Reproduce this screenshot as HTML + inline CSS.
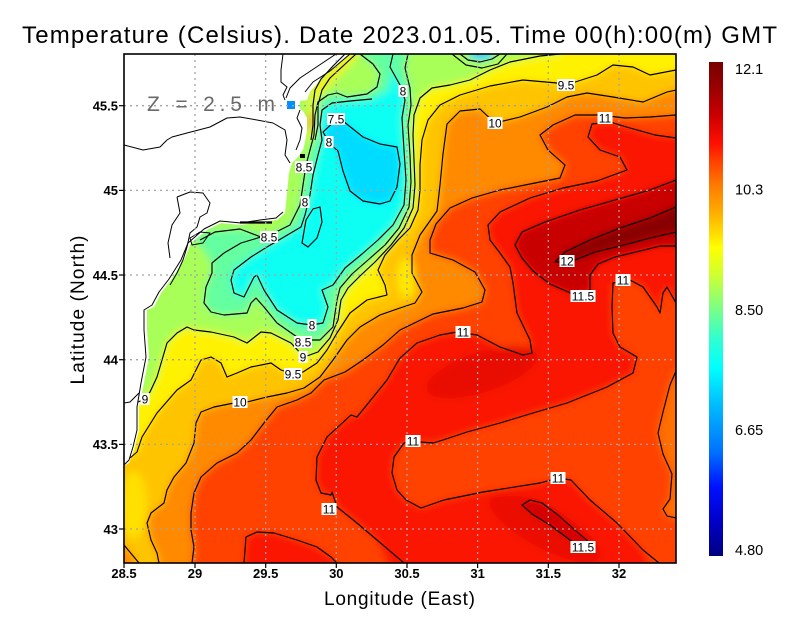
<!DOCTYPE html>
<html><head><meta charset="utf-8"><style>
html,body{margin:0;padding:0;background:#fff;}
svg{display:block;}
text{font-family:"Liberation Sans",sans-serif;}
</style></head><body>
<svg width="800" height="618" viewBox="0 0 800 618" xmlns="http://www.w3.org/2000/svg">
<defs>
<clipPath id="pc"><rect x="124" y="54" width="552" height="509"/></clipPath>
<filter id="bl" x="-5%" y="-5%" width="110%" height="110%"><feGaussianBlur stdDeviation="4"/></filter>
<linearGradient id="cb" x1="0" y1="0" x2="0" y2="1">
<stop offset="0" stop-color="#780000"/>
<stop offset="0.05" stop-color="#980000"/>
<stop offset="0.11" stop-color="#cc0000"/>
<stop offset="0.165" stop-color="#ff1000"/>
<stop offset="0.2" stop-color="#ff4000"/>
<stop offset="0.25" stop-color="#ff7c00"/>
<stop offset="0.3" stop-color="#ffa800"/>
<stop offset="0.35" stop-color="#ffe000"/>
<stop offset="0.375" stop-color="#ffff00"/>
<stop offset="0.43" stop-color="#d0ff30"/>
<stop offset="0.495" stop-color="#80ff80"/>
<stop offset="0.56" stop-color="#30ffd0"/>
<stop offset="0.62" stop-color="#00ffff"/>
<stop offset="0.69" stop-color="#00c0ff"/>
<stop offset="0.74" stop-color="#0098ff"/>
<stop offset="0.79" stop-color="#0070ff"/>
<stop offset="0.86" stop-color="#0010ff"/>
<stop offset="0.93" stop-color="#0000c8"/>
<stop offset="1" stop-color="#000080"/>
</linearGradient>
</defs>
<rect width="800" height="618" fill="#fff"/>

<g clip-path="url(#pc)">
<g filter="url(#bl)">
<rect x="100" y="30" width="600" height="560" fill="#ff4200"/>
<polygon fill="#fa1400" points="387,380 400,358 417,343 440,335 457,332 477,335 500,347 523,355 532,353 530,340 517,313 513,283 510,267 500,253 490,240 488,225 500,212 530,198 563,188 597,181 627,170 620,157 600,150 588,137 592,124 610,122 630,128 655,135 700,138 700,303 676,303 667,287 663,293 660,313 657,307 643,287 630,280 613,283 612,307 613,333 620,347 637,357 633,373 607,387 567,403 533,413 500,423 467,432 443,440 433,443 420,442 413,441 404,443 394,457 392,473 397,490 406,500 421,508 444,500 483,492 540,483 558,478 571,480 590,500 617,523 643,550 662,590 400,590 377,540 357,523 337,507 332,492 331,495 321,493 316,480 317,457 327,437 351,415 357,417"/>
<ellipse cx="482" cy="372" rx="58" ry="20" transform="rotate(-18 482 372)" fill="#e80800"/>
<ellipse cx="545" cy="528" rx="62" ry="20" transform="rotate(28 545 528)" fill="#ea0800"/>
<polygon fill="#c80000" points="700,178 676,180 650,190 615,200 580,210 545,222 522,232 515,245 522,258 533,271 550,284 573,294 590,290 590,275 598,264 615,257 640,251 660,246 700,246"/>
<polygon fill="#880000" points="700,205 676,207 650,218 620,228 590,240 565,252 555,262 570,262 595,252 620,246 650,238 676,232 700,232"/>
<polygon fill="#d00000" points="522,505 530,500 542,503 558,515 575,530 590,543 585,549 570,540 550,525 532,514"/>
<polygon fill="#fa1400" points="244,590 244,563 246,537 257,532 274,533 297,540 317,547 331,557 337,563 340,590"/>
<polygon fill="#ff7000" points="700,371 676,371 670,385 663,412 658,433 663,454 672,474 670,499 663,509 667,516 676,518 700,518"/>
<polygon fill="#ff8a00" points="100,590 192,590 192,563 194,547 191,530 191,513 194,493 201,477 217,463 237,453 251,440 264,423 277,407 297,400 311,393 324,380 345,372 363,360 383,345 400,330 433,314 463,308 482,302 485,290 475,272 453,260 430,253 430,240 436,224 450,208 472,198 500,190 530,184 560,178 565,165 548,150 540,135 553,125 575,115 600,115 625,118 650,117 676,115 700,115 700,30 100,30"/>
<polygon fill="#ffc400" points="100,525 124,545 134,557 142,590 159,590 159,563 157,553 151,540 147,523 151,513 164,503 167,490 174,477 186,463 194,443 196,423 201,412 214,407 234,403 247,402 267,397 287,393 304,388 320,377 333,360 347,340 360,327 380,315 400,308 415,303 422,292 412,273 412,255 420,235 437,211 440,185 443,154 447,124 460,111 480,109 495,123 520,117 547,107 567,97 587,93 613,97 643,102 667,92 676,90 700,88 700,30 100,30"/>
<ellipse cx="134" cy="505" rx="13" ry="34" fill="#ffe000"/>
<ellipse cx="406" cy="278" rx="9" ry="20" fill="#ffe800"/>
<polygon fill="#fff200" points="700,70 676,70 650,75 633,67 613,65 597,75 566,85 557,83 523,80 490,86 460,95 440,105 428,120 422,140 420,165 420,190 418,210 410,228 398,240 385,255 378,270 385,285 387,295 367,300 350,313 337,333 327,350 317,363 303,372 294,374 281,370 271,363 251,367 237,373 227,377 221,363 211,357 201,360 191,380 177,390 157,413 142,437 137,452 130,458 100,460 100,30 700,30"/>
<polygon fill="#a8ff58" points="560,30 560,54 540,56 510,62 490,70 470,80 450,85 432,88 420,98 414,115 413,135 414,160 415,185 413,208 404,228 391,245 375,262 360,276 348,288 341,300 338,320 330,338 318,352 304,357 291,343 271,333 261,332 247,343 234,337 211,332 194,330 187,327 177,333 167,343 157,377 150,392 145,399 138,402 100,402 100,30"/>
<polygon fill="#64ffa0" points="408,30 408,54 405,68 410,88 411,105 408,125 410,155 411,182 409,207 399,228 385,245 368,260 352,274 340,288 337,300 333,327 320,340 311,340 297,337 277,323 264,307 256,298 251,303 247,313 224,315 211,312 204,303 206,287 212,273 212,263 200,245 192,238 210,231 240,229 268,236 290,225 300,205 303,185 306,165 310,150 314,135 315,115 318,102 328,95 337,93 347,97 367,94 377,87 380,74 373,64 360,54 360,30"/>
<polygon fill="#08fff4" points="393,30 393,54 390,67 400,85 405,100 402,118 404,150 406,180 404,205 393,225 378,240 362,254 345,268 333,285 322,290 328,307 323,323 311,325 297,323 277,310 264,290 257,275 254,277 244,297 234,293 231,280 234,270 251,257 267,247 284,237 301,227 305,215 310,195 313,175 318,155 322,140 320,125 322,110 332,103 350,101 372,99 388,90 392,70 390,30"/>
<polygon fill="#00dcff" points="323,132 336,120 343,121 363,137 380,144 397,147 400,164 397,187 390,201 380,204 363,201 350,191 343,171 338,151 330,144"/>
<ellipse cx="481" cy="54" rx="13" ry="6" fill="#00d0ff"/>
<polygon fill="#f8f000" points="352,48 342,58 330,70 318,82 312,92 309,105 309,125 308,140 314,140 316,122 316,105 320,95 328,86 340,74 352,62 362,50"/>
<ellipse cx="311" cy="122" rx="3" ry="9" fill="#ff9000"/>
</g>

<!-- land -->
<polygon fill="#fff" points="124,54 350,54 345,58 333,68 320,80 310,92 307,100 300,101 300,109 303,111 307,118 307,130 305,142 303,150 298,157 292,163 289,173 287,193 285,213 277,220 260,222 241,225 221,223 207,230 191,243 184,260 171,280 161,293 154,307 147,310 147,330 149,357 144,383 139,407 139,430 134,450 129,463 124,466"/>
<rect x="287" y="101" width="8" height="8" fill="#0090ff"/>
<g fill="none" stroke="#000" stroke-width="1" stroke-linejoin="round">
<polyline points="350,54 330,71 313,82 305,92"/>
<polyline points="336,54 318,66 300,78 290,88 286,98"/>
<polyline points="283,54 281,70 281,82 287,87 283,95 285,100"/>
<polyline points="124,145 143,150 160,147 167,140 172,137 187,133 210,127 227,118 240,117 257,120 273,123 285,130 287,140 285,155 290,163"/>
<polyline points="177,197 190,192 203,193 210,203 207,213 200,217 197,227 190,233 187,247 183,260 177,273 170,285"/>
<polyline points="177,197 180,213 172,225 168,243 170,258"/>
<polygon points="190,238 200,232 210,233 203,243 192,245"/>
<polyline points="124,465 129,460 133,447 137,430 137,407 141,383 146,357 144,330 144,310 152,305 159,292 169,279 181,260 188,243 204,229 220,221 241,223 260,220 276,218 283,212"/>
<polyline points="124,403 130,402 139,393"/>
<polyline points="300,110 297,118 302,128 300,140 296,150"/>
</g>
<line x1="240" y1="222.5" x2="272" y2="222.5" stroke="#000" stroke-width="2.2"/>
<rect x="300" y="154" width="5" height="4" fill="#000"/>

<!-- contours -->
<g fill="none" stroke="#000" stroke-width="1.15" stroke-linejoin="round">
<polyline points="676,70 650,75 633,67 613,65 597,75 566,85 557,83 523,80 490,86 460,95 440,105 428,120 422,140 420,165 420,190 418,210 410,228 398,240 385,255 378,270 385,285 387,295 367,300 350,313 337,333 327,350 317,363 303,372 294,374 281,370 271,363 251,367 237,373 227,377 221,363 211,357 201,360 191,380 177,390 157,413 142,437 137,452 130,458"/>
<polyline points="159,563 157,553 151,540 147,523 151,513 164,503 167,490 174,477 186,463 194,443 196,423 201,412 214,407 234,403 247,402 267,397 287,393 304,388 320,377 333,360 347,340 360,327 380,315 400,308 415,303 422,292 412,273 412,255 420,235 437,211 440,185 443,154 447,124 460,111 480,109 495,123 520,117 547,107 567,97 587,93 613,97 643,102 667,92 676,90"/>
<polyline points="124,545 134,557 139,563"/>
<polyline points="192,563 194,547 191,530 191,513 194,493 201,477 217,463 237,453 251,440 264,423 277,407 297,400 311,393 324,380 345,372 363,360 383,345 400,330 433,314 463,308 482,302 485,290 475,272 453,260 430,253 430,240 436,224 450,208 472,198 500,190 530,184 560,178 565,165 548,150 540,135 553,125 575,115 600,115 625,118 650,117 676,115"/>
<polyline points="676,371 670,385 663,412 658,433 663,454 672,474 670,499 663,509 667,516 676,518"/>
<polyline points="404,563 377,540 357,523 337,507 332,492 331,495 321,493 316,480 317,457 327,437 351,415 357,417 387,380 400,358 417,343 440,335 457,332 477,335 500,347 523,355 532,353 530,340 517,313 513,283 510,267 500,253 490,240 488,225 500,212 530,198 563,188 597,181 627,170 620,157 600,150 588,137 592,124 610,122 630,128 655,135 676,138"/>
<polyline points="676,303 667,287 663,293 660,313 657,307 643,287 630,280 613,283 612,307 613,333 620,347 637,357 633,373 607,387 567,403 533,413 500,423 467,432 443,440 433,443 420,442 413,441 404,443 394,457 392,473 397,490 406,500 421,508 444,500 483,492 540,483 558,478 571,480 590,500 617,523 643,550 659,563"/>
<polyline points="244,563 246,537 257,532 274,533 297,540 317,547 331,557 337,563"/>
<polyline points="676,180 650,190 615,200 580,210 545,222 522,232 515,245 522,258 533,271 550,284 573,294 590,290 590,275 598,264 615,257 640,251 660,246 676,246"/>
<polyline points="676,207 650,218 620,228 590,240 565,252 555,262 570,262 595,252 620,246 650,238 676,232"/>
<polygon points="522,505 530,500 542,503 558,515 575,530 590,543 585,549 570,540 550,525 532,514"/>
<polyline points="560,54 540,56 510,62 490,70 470,80 450,85 432,88 420,98 414,115 413,135 414,160 415,185 413,208 404,228 391,245 375,262 360,276 348,288 341,300 338,320 330,338 318,352 304,357 291,343 271,333 261,332 247,343 234,337 211,332 194,330 187,327 177,333 167,343 157,377 150,392 145,399 138,402"/>
<polyline points="408,54 405,68 410,88 411,105 408,125 410,155 411,182 409,207 399,228 385,245 368,260 352,274 340,288 337,300 333,327 320,340 311,340 297,337 277,323 264,307 256,298 251,303 247,313 224,315 211,312 204,303 206,287 212,273 212,263 224,253 241,243 261,237 268,236 290,225 300,205 303,185 306,165 310,150 314,135 315,115 318,102 328,95 337,93 347,97 367,94 377,87 380,74 373,64 360,54"/>
<polyline points="261,237 240,229 215,232 200,240"/>
<polyline points="393,54 390,67 400,85 405,100 402,118 404,150 406,180 404,205 393,225 378,240 362,254 345,268 333,285 322,290 328,307 323,323 311,325 297,323 277,310 264,290 257,275 254,277 244,297 234,293 231,280 234,270 251,257 267,247 284,237 301,227 305,215 310,195 313,175 318,155 322,140 320,125 322,110 332,103 350,101 372,99"/>
<polygon points="323,132 336,120 343,121 363,137 380,144 397,147 400,164 397,187 390,201 380,204 363,201 350,191 343,171 338,151 330,144"/>
<polygon points="302,243 306,220 313,209 320,207 322,222 317,238 308,247"/>
<polyline points="345,54 333,66 321,79 315,90 313,105 313,125 311,140"/>
<polyline points="356,54 343,66 330,78 322,90 318,105 318,125 315,140"/>
<polyline points="460,54 468,60 480,62 492,59 500,54"/>
<polyline points="452,54 466,65 482,68 498,64 507,54"/>
</g>

<!-- grid -->
<g stroke="#a4a4a4" stroke-width="1.3" stroke-dasharray="2,4">
<line x1="195" y1="54" x2="195" y2="563"/>
<line x1="265.7" y1="54" x2="265.7" y2="563"/>
<line x1="336.3" y1="54" x2="336.3" y2="563"/>
<line x1="407" y1="54" x2="407" y2="563"/>
<line x1="477.6" y1="54" x2="477.6" y2="563"/>
<line x1="548.3" y1="54" x2="548.3" y2="563"/>
<line x1="619" y1="54" x2="619" y2="563"/>
<line x1="124" y1="105.7" x2="676" y2="105.7"/>
<line x1="124" y1="190.4" x2="676" y2="190.4"/>
<line x1="124" y1="275" x2="676" y2="275"/>
<line x1="124" y1="359.7" x2="676" y2="359.7"/>
<line x1="124" y1="444.4" x2="676" y2="444.4"/>
<line x1="124" y1="529" x2="676" y2="529"/>
</g>

<!-- contour labels -->
<g font-size="12" text-anchor="middle" fill="#000">
<rect x="557" y="79" width="18" height="12" fill="#fff"/><text x="566" y="89.3">9.5</text>
<rect x="487.5" y="117" width="15" height="12" fill="#fff"/><text x="495" y="127.3">10</text>
<rect x="597.5" y="112" width="15" height="12" fill="#fff"/><text x="605" y="122.3">11</text>
<rect x="398.5" y="85" width="9" height="12" fill="#fff"/><text x="403" y="95.3">8</text>
<rect x="327" y="113" width="18" height="12" fill="#fff"/><text x="336" y="123.3">7.5</text>
<rect x="324.5" y="136" width="9" height="12" fill="#fff"/><text x="329" y="146.3">8</text>
<rect x="295" y="161" width="18" height="12" fill="#fff"/><text x="304" y="171.3">8.5</text>
<rect x="300.5" y="196" width="9" height="12" fill="#fff"/><text x="305" y="206.3">8</text>
<rect x="260" y="231" width="18" height="12" fill="#fff"/><text x="269" y="241.3">8.5</text>
<rect x="559.5" y="255" width="15" height="12" fill="#fff"/><text x="567" y="265.3">12</text>
<rect x="615.5" y="274" width="15" height="12" fill="#fff"/><text x="623" y="284.3">11</text>
<rect x="570.5" y="290" width="25" height="12" fill="#fff"/><text x="583" y="300.3">11.5</text>
<rect x="307.5" y="319" width="9" height="12" fill="#fff"/><text x="312" y="329.3">8</text>
<rect x="455.5" y="326" width="15" height="12" fill="#fff"/><text x="463" y="336.3">11</text>
<rect x="294" y="336" width="18" height="12" fill="#fff"/><text x="303" y="346.3">8.5</text>
<rect x="298.5" y="351" width="9" height="12" fill="#fff"/><text x="303" y="361.3">9</text>
<rect x="284" y="368" width="18" height="12" fill="#fff"/><text x="293" y="378.3">9.5</text>
<rect x="140.5" y="393" width="9" height="12" fill="#fff"/><text x="145" y="403.3">9</text>
<rect x="232.5" y="396" width="15" height="12" fill="#fff"/><text x="240" y="406.3">10</text>
<rect x="405.5" y="435" width="15" height="12" fill="#fff"/><text x="413" y="445.3">11</text>
<rect x="550.5" y="472" width="15" height="12" fill="#fff"/><text x="558" y="482.3">11</text>
<rect x="321.5" y="503" width="15" height="12" fill="#fff"/><text x="329" y="513.3">11</text>
<rect x="570.5" y="541" width="25" height="12" fill="#fff"/><text x="583" y="551.3">11.5</text>
</g>

<text x="147" y="111" font-size="21" fill="#6a6a6a" textLength="128" lengthAdjust="spacing">Z = 2.5 m</text>
</g>

<!-- frame -->
<rect x="124" y="54" width="552" height="509" fill="none" stroke="#000" stroke-width="1.6"/>
<g stroke="#000" stroke-width="1.2">
<line x1="124" y1="563" x2="124" y2="568"/>
<line x1="195" y1="563" x2="195" y2="568"/>
<line x1="265.7" y1="563" x2="265.7" y2="568"/>
<line x1="336.3" y1="563" x2="336.3" y2="568"/>
<line x1="407" y1="563" x2="407" y2="568"/>
<line x1="477.6" y1="563" x2="477.6" y2="568"/>
<line x1="548.3" y1="563" x2="548.3" y2="568"/>
<line x1="619" y1="563" x2="619" y2="568"/>
<line x1="119" y1="105.7" x2="124" y2="105.7"/>
<line x1="119" y1="190.4" x2="124" y2="190.4"/>
<line x1="119" y1="275" x2="124" y2="275"/>
<line x1="119" y1="359.7" x2="124" y2="359.7"/>
<line x1="119" y1="444.4" x2="124" y2="444.4"/>
<line x1="119" y1="529" x2="124" y2="529"/>
</g>
<g font-size="13" font-weight="bold" text-anchor="middle" fill="#000">
<text x="124" y="578">28.5</text>
<text x="195" y="578">29</text>
<text x="265.7" y="578">29.5</text>
<text x="336.3" y="578">30</text>
<text x="407" y="578">30.5</text>
<text x="477.6" y="578">31</text>
<text x="548.3" y="578">31.5</text>
<text x="619" y="578">32</text>
</g>
<g font-size="13" font-weight="bold" text-anchor="end" fill="#000">
<text x="118" y="110.5">45.5</text>
<text x="118" y="195">45</text>
<text x="118" y="280">44.5</text>
<text x="118" y="364.5">44</text>
<text x="118" y="449">43.5</text>
<text x="118" y="534">43</text>
</g>

<!-- colorbar -->
<rect x="709" y="62" width="14" height="494" fill="url(#cb)"/>
<g font-size="14.5" fill="#000">
<text x="735" y="74">12.1</text>
<text x="735" y="194.5">10.3</text>
<text x="735" y="315">8.50</text>
<text x="735" y="435">6.65</text>
<text x="735" y="555">4.80</text>
</g>

<!-- titles -->
<text x="22" y="43" font-size="24" fill="#000" textLength="755" lengthAdjust="spacing">Temperature (Celsius). Date 2023.01.05. Time 00(h):00(m) GMT</text>
<text x="324" y="605" font-size="19" fill="#000" textLength="151" lengthAdjust="spacing">Longitude (East)</text>
<text transform="translate(84,310) rotate(-90)" x="0" y="0" font-size="19" fill="#000" text-anchor="middle" textLength="149" lengthAdjust="spacing">Latitude (North)</text>
</svg>
</body></html>
